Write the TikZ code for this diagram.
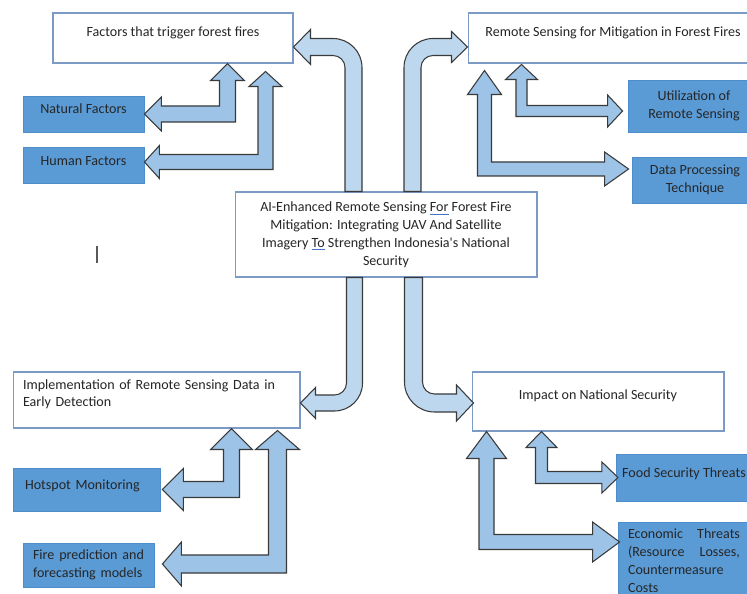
\documentclass[tikz,border=0pt]{standalone}
\usepackage{fontspec}
\setmainfont{Carlito}
\usetikzlibrary{calc}

\definecolor{boxline}{HTML}{7C9BC4}
\definecolor{subfill}{HTML}{5B9BD5}
\definecolor{subline}{HTML}{4F8CCB}
\definecolor{bentfill}{HTML}{BDD7EE}
\definecolor{twinfill}{HTML}{9DC3E6}
\definecolor{arrowline}{HTML}{3A3A3A}
\definecolor{txt}{HTML}{262626}
\definecolor{ulblue}{HTML}{4472C4}

\tikzset{
  mainbox/.style={draw=boxline, fill=white, line width=0.6pt, text=txt},
  subbox/.style={draw=subline, fill=subfill, line width=0.5pt, text=txt},
  lift/.style={text height=5.6pt, text depth=#1},
  bentshaft/.style={draw=arrowline, fill=bentfill, line width=0.6pt},
  twinshaft/.style={draw=arrowline, fill=twinfill, line width=0.6pt},
}

\newcommand{\gramline}[1]{\textcolor{ulblue}{\underline{\textcolor{txt}{#1}}}}

% block arrow with a head at both ends: #1 upper tip, #2 side tip, #3 side (1 right, -1 left),
% #4 half shaft, #5 half head, #6 head length
\newcommand{\twinarrow}[6]{%
  \draw[twinshaft] (#1) -- ++({-(#3)*(#5)},{#6}) -- ++({(#3)*((#5)-(#4))},0)
    -- ($(#1 |- #2)+({-(#3)*(#4)},{#4})$) -- ($(#2)+({-(#3)*(#6)},{#4})$)
    -- ++(0,{(#5)-(#4)}) -- (#2) -- ++({-(#3)*(#6)},{-(#5)})
    -- ++(0,{(#5)-(#4)}) -- ($(#1 |- #2)+({(#3)*(#4)},{-(#4)})$)
    -- ($(#1)+({(#3)*(#4)},{#6})$) -- ++({(#3)*((#5)-(#4))},0) -- cycle;}

% bent block arrow: #1 tail, #2 tip, #3 side, #4 up (-1) or down (1), #5 half shaft, #6 half head, #7 head length
\newcommand{\bentarrow}[7]{%
  \draw[bentshaft] ($(#1)+({-(#3)*(#5)},0)$)
    -- ($(#1 |- #2)+({-(#3)*(#5)},{(#4)*(#5)-(#4)*(12+2*(#5))})$)
    .. controls +(0,{0.552*(#4)*(12+2*(#5))}) and +({-0.552*(#3)*(12+2*(#5))},0) ..
    ($(#1 |- #2)+({(#3)*(12+(#5))},{(#4)*(#5)})$)
    -- ($(#2)+({-(#3)*(#7)},{(#4)*(#5)})$) -- ($(#2)+({-(#3)*(#7)},{(#4)*(#6)})$)
    -- (#2) -- ($(#2)+({-(#3)*(#7)},{-(#4)*(#6)})$) -- ($(#2)+({-(#3)*(#7)},{-(#4)*(#5)})$)
    -- ($(#1 |- #2)+({(#3)*((#5)+12)},{-(#4)*(#5)})$)
    .. controls +({-0.552*(#3)*12},0) and +(0,{0.552*(#4)*12}) ..
    ($(#1 |- #2)+({(#3)*(#5)},{-(#4)*((#5)+12)})$)
    -- ($(#1)+({(#3)*(#5)},0)$) -- cycle;}

\begin{document}
\begin{tikzpicture}[x=0.02cm, y=-0.02cm, font=\fontsize{8}{10.2}\selectfont]
\fill[white] (0,0) rectangle (747,594);
\useasboundingbox (0,0) rectangle (747,594);

% boxes
\node[mainbox, lift=7.4pt, minimum width=4.8cm, minimum height=1cm] (fac) at (173,38) {Factors that trigger forest fires};
\node[subbox, lift=6.3pt, minimum width=2.42cm, minimum height=0.72cm] (nat) at (83.5,114) {Natural Factors};
\node[subbox, lift=5.1pt, minimum width=2.42cm, minimum height=0.72cm] (hum) at (83.5,165) {Human Factors};
\node[mainbox, lift=7.4pt, minimum width=5.8cm, minimum height=1cm] (rem) at (613,38) {Remote Sensing for Mitigation in Forest Fires};
\node[subbox, align=center, minimum width=2.64cm, minimum height=1.04cm] (uti) at (694,106) {Utilization of\\Remote Sensing};
\node[subbox, align=center, minimum width=2.52cm, minimum height=0.92cm] (dat) at (695,180) {Data Processing\\Technique};
\node[mainbox, align=center, minimum width=6.04cm, minimum height=1.7cm] (cen) at (386,234.5)
  {AI-Enhanced Remote Sensing \gramline{For} Forest Fire\\Mitigation: Integrating UAV And Satellite\\Imagery \gramline{To} Strengthen Indonesia\textquotesingle s National\\Security};
\node[mainbox, align=left, text width=5.34cm, inner xsep=0.2cm, text height=5.6pt, text depth=18.1pt, minimum height=1.12cm] (impl) at (156.5,400)
  {Implementation of Remote Sensing Data in\\Early Detection};
\node[subbox, align=left, text width=2.46cm, inner xsep=0.24cm, lift=5.7pt, minimum height=0.86cm] (hot) at (86.5,489.5) {Hotspot Monitoring};
\node[subbox, align=left, text width=2.22cm, inner xsep=0.2cm, minimum height=0.88cm] (fir) at (88.5,565)
  {\makebox[\linewidth]{Fire\hfill prediction\hfill and}\\forecasting models};
\node[mainbox, lift=7.9pt, minimum width=5.04cm, minimum height=1.18cm] (nsec) at (598,401.5) {Impact on National Security};
\node[subbox, lift=5.7pt, minimum width=2.64cm, minimum height=0.94cm] (foo) at (684,477.5) {Food Security Threats};
\node[subbox, align=left, text width=2.24cm, inner xsep=0.2cm, minimum height=1.56cm] (eco) at (684,561)
  {\makebox[\linewidth]{Economic\hfill Threats}\\\makebox[\linewidth]{(Resource\hfill Losses,}\\Countermeasure\\Costs};

% ends of the bent arrows from the centre box
\coordinate (tl1) at ($(cen.north)+(-32.5,0)$);
\coordinate (tl2) at ($(fac.east)+(0,9)$);
\coordinate (tr1) at ($(cen.north)+(26.5,0)$);
\coordinate (tr2) at ($(rem.west)+(0,9)$);
\coordinate (bl1) at ($(cen.south)+(-31.5,0)$);
\coordinate (bl2) at ($(impl.east)+(0,3)$);
\coordinate (br1) at ($(cen.south)+(27.5,0)$);
\coordinate (br2) at ($(nsec.west)+(2,1.5)$);
\foreach \a/\b/\s/\v/\w/\h/\l in {tl1/tl2/-1/-1/8.5/17.5/17, tr1/tr2/1/-1/8.5/15.5/16,
    bl1/bl2/-1/1/8/15.5/15, br1/br2/1/1/9/18/17}
  {\bentarrow{\a}{\b}{\s}{\v}{\w}{\h}{\l}}

% ends of the two-headed arrows
\coordinate (nat1) at ($(fac.south west)+(175,0)$);
\coordinate (nat2) at (nat.east);
\coordinate (hum1) at ($(fac.south west)+(213,8)$);
\coordinate (hum2) at ($(hum.east)+(0,-3)$);
\coordinate (uti1) at ($(rem.south west)+(54,1)$);
\coordinate (uti2) at ($(uti.west)+(-5,5)$);
\coordinate (dat1) at ($(rem.south west)+(17,7)$);
\coordinate (dat2) at ($(dat.west)+(-3,-11)$);
\coordinate (hot1) at ($(impl.south west)+(219,0)$);
\coordinate (hot2) at ($(hot.east)+(2,0)$);
\coordinate (fir1) at ($(impl.south west)+(265,2)$);
\coordinate (fir2) at ($(fir.east)+(8,-1)$);
\coordinate (foo1) at ($(nsec.south west)+(70,0)$);
\coordinate (foo2) at ($(foo.west)+(2,0)$);
\coordinate (eco1) at ($(nsec.south west)+(15,0)$);
\coordinate (eco2) at ($(eco.west)+(2,-19)$);
\foreach \a/\b/\s/\w/\h/\l in {nat1/nat2/-1/8/17/17, hum1/hum2/-1/7.5/16.5/15,
    uti1/uti2/1/5.5/16/15, dat1/dat2/1/7/17/24, hot1/hot2/-1/8/21/21,
    fir1/fir2/-1/9/22/19, foo1/foo2/1/6/15.5/16, eco1/eco2/1/7.5/20/27}
  {\twinarrow{\a}{\b}{\s}{\w}{\h}{\l}}

% text cursor
\draw[gray!70!black, line width=0.7pt] (97,246) -- (97,263);
\end{tikzpicture}
\end{document}
